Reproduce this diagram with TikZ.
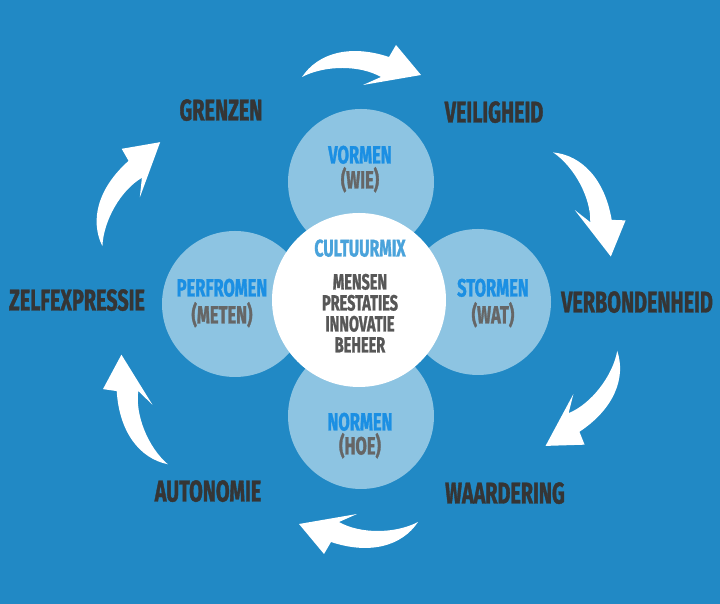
\documentclass[tikz,border=0pt]{standalone}
\usepackage{fontspec}
\setmainfont{Fira Sans}[FakeStretch=0.66,BoldFeatures={FakeBold=1.2}]
\definecolor{bgblue}{HTML}{2189C5}
\definecolor{paleblue}{HTML}{8DC4E2}
\definecolor{brightblue}{HTML}{1B8FE3}
\definecolor{mixblue}{HTML}{4AA3DB}
\definecolor{darkgrey}{HTML}{353535}
\definecolor{midgrey}{HTML}{666666}
\definecolor{itemgrey}{HTML}{575757}
\begin{document}
\begin{tikzpicture}[x=1pt,y=1pt,
  phase/.style={circle,fill=paleblue,minimum size=146pt,inner sep=0pt},
  stage/.style={font=\fontsize{30}{30}\selectfont\bfseries,text=darkgrey,
    inner sep=0pt,text height=21pt,text depth=0pt},
  phasename/.style={font=\fontsize{25}{25}\selectfont\bfseries,text=brightblue,
    inner sep=0pt,text height=17pt,text depth=0pt},
  question/.style={font=\fontsize{25}{25}\selectfont\bfseries,text=midgrey,
    inner sep=0pt,text height=17pt,text depth=0pt},
  item/.style={font=\fontsize{22}{22}\selectfont\bfseries,text=itemgrey,
    inner sep=0pt,text height=15pt,text depth=0pt},
  turn/.pic={\fill[white] (-58,-12) .. controls (-42,12) and (-10,21) .. (29,8)
    -- (36,20) -- (61,-10) -- (3,-20) -- (21,-12)
    .. controls (0,0) and (-35,0) .. cycle;}]
\fill[bgblue] (0,0) rectangle (720,604);

% the four phases
\node[phase] (vormen) at (361,422) {};
\node[phase] (normen) at (361,188) {};
\node[phase] (perfromen) at (235,300) {};
\node[phase] (stormen) at (478,302) {};
\node[circle,fill=white,minimum size=174pt,inner sep=0pt] (mix) at (359,304) {};

\node[phasename] (vormen-t) at (360,449) {VORMEN};
\node[question] (vormen-q) at (360,424) {(WIE)};
\node[phasename] (perfromen-t) at (222,316) {PERFROMEN};
\node[question] (perfromen-q) at (222,289) {(METEN)};
\node[phasename] (stormen-t) at (493,316) {STORMEN};
\node[question] (stormen-q) at (493,289) {(WAT)};
\node[phasename] (normen-t) at (360,182) {NORMEN};
\node[question] (normen-q) at (360,158) {(HOE)};

\node[item,font=\fontsize{24}{24}\selectfont\bfseries,text=mixblue] (mix-t)
  at (360,355) {CULTUURMIX};
\node[item] (mensen) at (360,322) {MENSEN};
\node[item] (prestaties) at (360,301) {PRESTATIES};
\node[item] (innovatie) at (360,280) {INNOVATIE};
\node[item] (beheer) at (360,259) {BEHEER};

% the ring of stages
\node[stage] (grenzen) at (221,494) {GRENZEN};
\node[stage] (veiligheid) at (494,492) {VEILIGHEID};
\node[stage] (verbonden) at (637,302) {VERBONDENHEID};
\node[stage] (waardering) at (505,111) {WAARDERING};
\node[stage] (autonomie) at (208,113) {AUTONOMIE};
\node[stage] (zelf) at (77,304) {ZELFEXPRESSIE};

\pic at (360,539) {turn};
\pic[rotate=-62] at (591,406) {turn};
\pic[rotate=-128] at (591,200) {turn};
\pic[rotate=180] at (360,70) {turn};
\pic[rotate=112] at (135,189) {turn};
\pic[rotate=60] at (121,414) {turn};
\end{tikzpicture}
\end{document}
